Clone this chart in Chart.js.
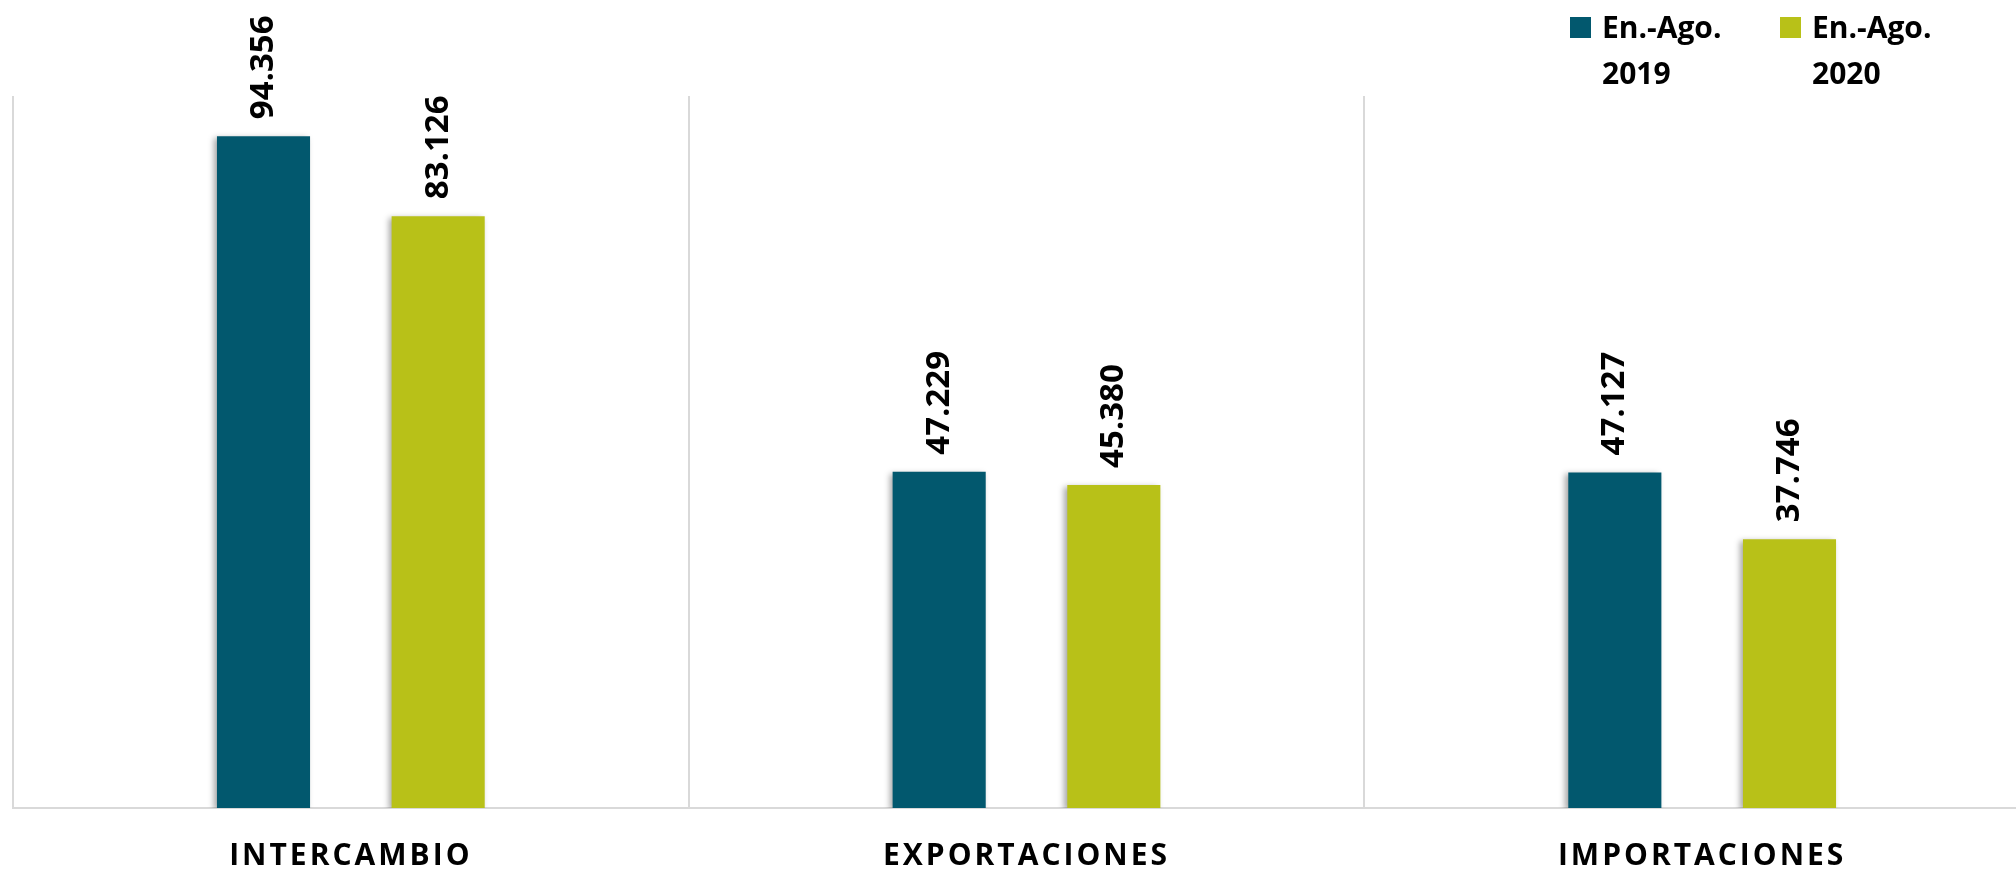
<!DOCTYPE html>
<html>
<head>
<meta charset="utf-8">
<script src="https://cdn.jsdelivr.net/npm/chart.js@4/dist/chart.umd.min.js"></script>
<style>
  html, body { margin: 0; padding: 0; background: #fff; overflow: hidden; }
  #wrap { width: 2016px; height: 873px; overflow: hidden; position: relative; }
  #box { width: 2040px; height: 873px; position: absolute; left: 0; top: 0; }
</style>
</head>
<body>
<div id="wrap"><div id="box"><canvas id="myChart"></canvas></div></div>
<script>
'use strict';

const categories = ['INTERCAMBIO', 'EXPORTACIONES', 'IMPORTACIONES'];
const seriesNames = ['En.-Ago. 2019', 'En.-Ago. 2020'];
const values2019 = [94356, 47229, 47127];
const values2020 = [83126, 45380, 37746];
const seriesColors = ['#02586e', '#b8c118'];

const fontName = '"Open Sans", "Noto Sans", sans-serif';

function formatValue(v) {
    return v.toLocaleString('de-DE');
}

// bar labels, shadows and letter spacing of the category names
const extrasPlugin = {
    id: 'extras',
    beforeDraw(chart) {
        chart.ctx.letterSpacing = '3px';
    },
    beforeDatasetsDraw(chart) {
        const ctx = chart.ctx;
        ctx.letterSpacing = '0px';
        ctx.save();
        ctx.shadowColor = 'rgba(0,0,0,0.35)';
        ctx.shadowBlur = 6;
        ctx.shadowOffsetX = -3;
        ctx.shadowOffsetY = 2;
    },
    afterDatasetsDraw(chart) {
        const ctx = chart.ctx;
        ctx.restore();
        ctx.save();
        ctx.fillStyle = '#000';
        ctx.font = 'bold 33px ' + fontName;
        ctx.textAlign = 'left';
        ctx.textBaseline = 'middle';
        chart.data.datasets.forEach((ds, i) => {
            chart.getDatasetMeta(i).data.forEach((bar, j) => {
                ctx.save();
                ctx.translate(bar.x, bar.y - 17);
                ctx.rotate(-Math.PI / 2);
                ctx.fillText(formatValue(ds.data[j]), 0, 0);
                ctx.restore();
            });
        });
        ctx.restore();
    },
    afterDraw(chart) {
        // legend, two lines per item
        const ctx = chart.ctx;
        const startX = [1570, 1780];
        ctx.save();
        ctx.letterSpacing = '0px';
        ctx.font = 'bold 30px ' + fontName;
        ctx.textAlign = 'left';
        ctx.textBaseline = 'alphabetic';
        chart.data.datasets.forEach((ds, i) => {
            const x = startX[i];
            ctx.fillStyle = ds.backgroundColor;
            ctx.fillRect(x, 17, 21, 21);
            const cut = ds.label.lastIndexOf(' ');
            ctx.fillStyle = '#000';
            ctx.fillText(ds.label.slice(0, cut), x + 32, 38);
            ctx.fillText(ds.label.slice(cut + 1), x + 32, 84);
        });
        ctx.restore();
    }
};

const canvasEl = document.getElementById('myChart');

new Chart(canvasEl, {
    type: 'bar',
    data: {
        labels: categories,
        datasets: [{
            label: seriesNames[0],
            data: values2019,
            backgroundColor: seriesColors[0],
            categoryPercentage: 0.517,
            barPercentage: 0.533
        }, {
            label: seriesNames[1],
            data: values2020,
            backgroundColor: seriesColors[1],
            categoryPercentage: 0.517,
            barPercentage: 0.533
        }]
    },
    options: {
        responsive: true,
        maintainAspectRatio: false,
        animation: false,
        devicePixelRatio: 1,
        layout: {
            padding: { left: 13, right: 0, top: 96, bottom: -31 }
        },
        plugins: {
            legend: { display: false },
            tooltip: { enabled: false }
        },
        scales: {
            x: {
                offset: true,
                grid: {
                    offset: true,
                    color: '#d9d9d9',
                    lineWidth: 2,
                    drawTicks: false
                },
                border: { display: true, color: '#d9d9d9', width: 2 },
                ticks: {
                    color: '#000',
                    padding: 30,
                    maxRotation: 0,
                    autoSkip: false,
                    font: { family: fontName, size: 30, weight: 'bold' }
                }
            },
            y: {
                display: false,
                min: 0,
                max: 100000
            }
        }
    },
    plugins: [extrasPlugin]
});
</script>
</body>
</html>
